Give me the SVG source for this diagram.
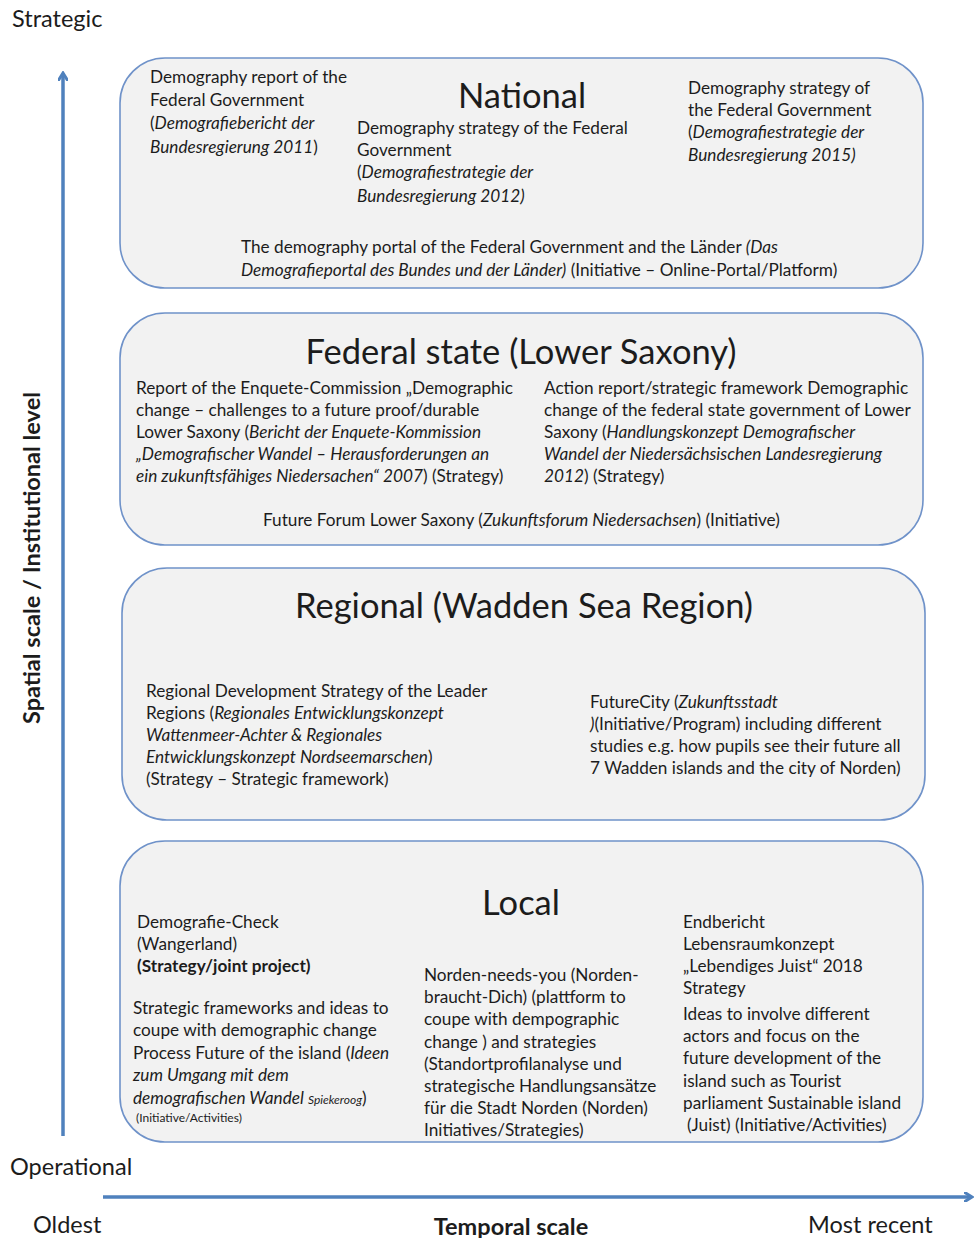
<svg xmlns="http://www.w3.org/2000/svg" width="976" height="1238" viewBox="0 0 976 1238">
<defs>
<style>
text{font-family:Lato,"Open Sans","Liberation Sans",sans-serif;fill:#1c1c1c;}
.t{font-size:17.2px;}
.i{font-style:italic;}
.b{font-weight:bold;}
.h{font-size:34.5px;text-anchor:middle;}
.ax{font-size:23.5px;}
.box{fill:#f2f2f2;stroke:#6f92c9;stroke-width:1.6;}
.arr{stroke:#4f81bd;stroke-width:3.5;fill:none;}
</style>
<marker id="ah" markerWidth="10" markerHeight="10" refX="7" refY="5" orient="auto" markerUnits="userSpaceOnUse">
<path d="M0,0 L8,5 L0,10" fill="none" stroke="#4f81bd" stroke-width="3"/>
</marker>
</defs>

<g id="connectors">
<line class="arr" x1="63" y1="1136" x2="63" y2="74" marker-end="url(#ah)"/>
<line class="arr" x1="103" y1="1197" x2="971" y2="1197" marker-end="url(#ah)"/>
</g>

<g id="axis-labels">
<text class="ax" x="12" y="27">Strategic</text>
<text class="ax" x="10" y="1175">Operational</text>
<text class="ax" x="33" y="1233">Oldest</text>
<text class="ax b" x="511" y="1235" text-anchor="middle">Temporal scale</text>
<text class="ax" x="808" y="1233">Most recent</text>
<text class="ax b" transform="translate(40,558) rotate(-90)" text-anchor="middle">Spatial scale / Institutional level</text>
</g>

<g id="national">
<rect class="box" x="120" y="58" width="803" height="230" rx="45"/>
<text class="h" x="522" y="108">National</text>
<text class="t" x="150" y="83">Demography report of the</text>
<text class="t" x="150" y="106">Federal Government</text>
<text class="t" x="150" y="129">(<tspan class="i">Demografiebericht der</tspan></text>
<text class="t i" x="150" y="153">Bundesregierung 2011<tspan font-style="normal">)</tspan></text>
<text class="t" x="357" y="134">Demography strategy of the Federal</text>
<text class="t" x="357" y="156">Government</text>
<text class="t" x="357" y="178">(<tspan class="i">Demografiestrategie der</tspan></text>
<text class="t i" x="357" y="202">Bundesregierung 2012)</text>
<text class="t" x="688" y="94">Demography strategy of</text>
<text class="t" x="688" y="116">the Federal Government</text>
<text class="t" x="688" y="138">(<tspan class="i">Demografiestrategie der</tspan></text>
<text class="t i" x="688" y="161">Bundesregierung 2015)</text>
<text class="t" x="241" y="253">The demography portal of the Federal Government and the Länder <tspan class="i">(Das</tspan></text>
<text class="t" x="241" y="276"><tspan class="i">Demografieportal des Bundes und der Länder)</tspan>  (Initiative – Online-Portal/Platform)</text>
</g>

<g id="federal-state">
<rect class="box" x="120" y="313" width="803" height="232" rx="45"/>
<text class="h" x="521" y="364">Federal state (Lower Saxony)</text>
<text class="t" x="136" y="394">Report of the Enquete-Commission „Demographic</text>
<text class="t" x="136" y="416">change – challenges to a future proof/durable</text>
<text class="t" x="136" y="438">Lower Saxony (<tspan class="i">Bericht der Enquete-Kommission</tspan></text>
<text class="t i" x="136" y="460">„Demografischer Wandel – Herausforderungen an</text>
<text class="t" x="136" y="482"><tspan class="i">ein zukunftsfähiges Niedersachen“ 2007</tspan>)  (Strategy)</text>
<text class="t" x="544" y="394">Action report/strategic framework Demographic</text>
<text class="t" x="544" y="416">change of the federal state government of Lower</text>
<text class="t" x="544" y="438">Saxony (<tspan class="i">Handlungskonzept Demografischer</tspan></text>
<text class="t i" x="544" y="460">Wandel der Niedersächsischen Landesregierung</text>
<text class="t" x="544" y="482"><tspan class="i">2012</tspan>) (Strategy)</text>
<text class="t" x="263" y="526">Future Forum Lower Saxony (<tspan class="i">Zukunftsforum Niedersachsen</tspan>) (Initiative)</text>
</g>

<g id="regional">
<rect class="box" x="122" y="568" width="803" height="252" rx="45"/>
<text class="h" x="524" y="618">Regional (Wadden Sea Region)</text>
<text class="t" x="146" y="697">Regional Development Strategy of the Leader</text>
<text class="t" x="146" y="719">Regions (<tspan class="i">Regionales Entwicklungskonzept</tspan></text>
<text class="t i" x="146" y="741">Wattenmeer-Achter &amp; Regionales</text>
<text class="t" x="146" y="763"><tspan class="i">Entwicklungskonzept  Nordseemarschen</tspan>)</text>
<text class="t" x="146" y="785">(Strategy – Strategic framework)</text>
<text class="t" x="590" y="708">FutureCity (<tspan class="i">Zukunftsstadt</tspan></text>
<text class="t" x="590" y="730"><tspan class="i">)</tspan>(Initiative/Program) including different</text>
<text class="t" x="590" y="752">studies e.g. how pupils see their future all</text>
<text class="t" x="590" y="774">7 Wadden islands and the city of Norden)</text>
</g>

<g id="local">
<rect class="box" x="120" y="841" width="803" height="301" rx="45"/>
<text class="h" x="521" y="915">Local</text>
<text class="t" x="137" y="928">Demografie-Check</text>
<text class="t" x="137" y="950">(Wangerland)</text>
<text class="t b" x="137" y="972">(Strategy/joint project)</text>
<text class="t" x="133" y="1014">Strategic frameworks and ideas to</text>
<text class="t" x="133" y="1036">coupe with demographic change</text>
<text class="t" x="133" y="1059">Process Future of the island (<tspan class="i">Ideen</tspan></text>
<text class="t i" x="133" y="1081">zum Umgang mit dem</text>
<text class="t" x="133" y="1104"><tspan class="i">demografischen Wandel <tspan font-size="12">Spiekeroog</tspan></tspan>)</text>
<text x="136" y="1122" font-size="12">(Initiative/Activities)</text>
<text class="t" x="424" y="981">Norden-needs-you (Norden-</text>
<text class="t" x="424" y="1003">braucht-Dich) (plattform to</text>
<text class="t" x="424" y="1025">coupe with dempographic</text>
<text class="t" x="424" y="1048">change ) and strategies</text>
<text class="t" x="424" y="1070">(Standortprofilanalyse und</text>
<text class="t" x="424" y="1092">strategische Handlungsansätze</text>
<text class="t" x="424" y="1114">für die Stadt Norden (Norden)</text>
<text class="t" x="424" y="1136">Initiatives/Strategies)</text>
<text class="t" x="683" y="928">Endbericht</text>
<text class="t" x="683" y="950">Lebensraumkonzept</text>
<text class="t" x="683" y="972">„Lebendiges Juist“ 2018</text>
<text class="t" x="683" y="994">Strategy</text>
<text class="t" x="683" y="1020">Ideas to involve different</text>
<text class="t" x="683" y="1042">actors and focus on the</text>
<text class="t" x="683" y="1064">future development of the</text>
<text class="t" x="683" y="1087">island such as Tourist</text>
<text class="t" x="683" y="1109">parliament Sustainable island</text>
<text class="t" x="687" y="1131">(Juist) (Initiative/Activities)</text>
</g>
</svg>
